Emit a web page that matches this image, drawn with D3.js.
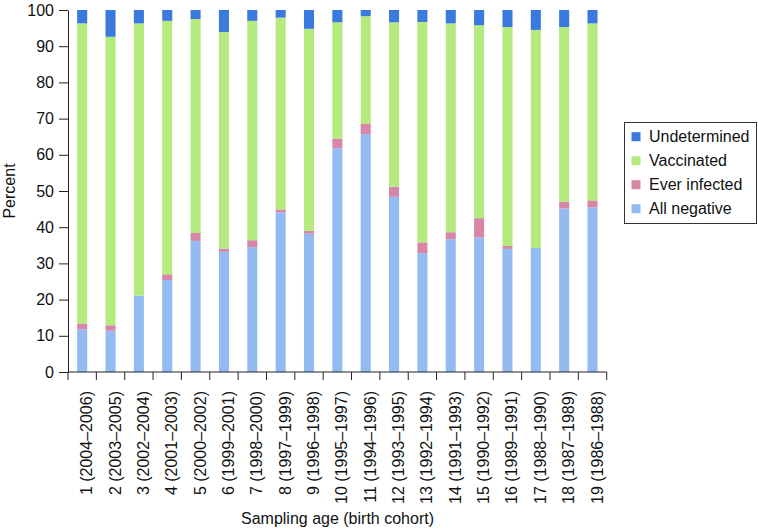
<!DOCTYPE html>
<html>
<head>
<meta charset="utf-8">
<script src="https://cdn.jsdelivr.net/npm/d3@7"></script>
<style>
  html, body { margin: 0; padding: 0; background: #fff; }
  svg { display: block; font-family: "Liberation Sans", Arial, Helvetica, sans-serif; }
</style>
</head>
<body>
<svg id="chart" width="758" height="531"></svg>
<script>
const categories = ["1 (2004\u20132006)","2 (2003\u20132005)","3 (2002\u20132004)","4 (2001\u20132003)","5 (2000\u20132002)","6 (1999\u20132001)","7 (1998\u20132000)","8 (1997\u20131999)","9 (1996\u20131998)","10 (1995\u20131997)","11 (1994\u20131996)","12 (1993\u20131995)","13 (1992\u20131994)","14 (1991\u20131993)","15 (1990\u20131992)","16 (1989\u20131991)","17 (1988\u20131990)","18 (1987\u20131989)","19 (1986\u20131988)"];
const allNegative  = [11.8, 11.4, 21.1, 25.4, 36.2, 33.2, 34.5, 44.1, 38.2, 61.8, 65.7, 48.4, 32.8, 36.7, 37.2, 34.0, 34.3, 45.2, 45.5];
const everInfected = [1.5, 1.5, 0.0, 1.6, 2.2, 0.9, 1.9, 0.8, 0.8, 2.7, 2.8, 2.8, 3.0, 1.9, 5.3, 0.8, 0.0, 1.8, 1.9];
const vaccinated   = [83.0, 79.7, 75.2, 70.0, 59.1, 59.8, 60.6, 53.0, 55.8, 32.1, 29.8, 45.4, 60.9, 57.7, 53.3, 60.5, 60.2, 48.3, 48.9];
const undetermined = [3.7, 7.4, 3.7, 3.0, 2.5, 6.1, 3.0, 2.1, 5.2, 3.4, 1.7, 3.4, 3.3, 3.7, 4.2, 4.7, 5.5, 4.7, 3.7];
const seriesNames  = ["All negative", "Ever infected", "Vaccinated", "Undetermined"];
const yTicks = [0, 10, 20, 30, 40, 50, 60, 70, 80, 90, 100];

const colors = {
  "All negative": "#93bbf1",
  "Ever infected": "#d786a7",
  "Vaccinated": "#b5ea7f",
  "Undetermined": "#3a79de"
};

const table = categories.map((c, i) => ({
  cat: c,
  "All negative": allNegative[i],
  "Ever infected": everInfected[i],
  "Vaccinated": vaccinated[i],
  "Undetermined": undetermined[i]
}));

const svg = d3.select("#chart");
const mLeft = 68, mRight = 606.7, mTop = 10, mBottom = 372;

const x = d3.scaleBand().domain(categories).range([mLeft, mRight])
  .paddingInner(0.645).paddingOuter(0.3225);
const y = d3.scaleLinear().domain([0, 100]).range([mBottom, mTop]);

const stacked = d3.stack().keys(seriesNames)(table);

svg.append("g").selectAll("g")
  .data(stacked)
  .join("g")
  .attr("fill", d => colors[d.key])
  .selectAll("rect")
  .data(d => d)
  .join("rect")
  .attr("x", d => x(d.data.cat))
  .attr("width", x.bandwidth())
  .attr("y", d => y(Math.min(d[1], 100)))
  .attr("height", d => Math.max(0, y(d[0]) - y(Math.min(d[1], 100))));

// Y axis
const yAxis = d3.axisLeft(y).tickValues(yTicks).tickSize(9).tickPadding(5).tickSizeOuter(0);
const gy = svg.append("g").attr("transform", `translate(${mLeft},0)`).call(yAxis);
gy.select(".domain").attr("stroke", "#222");
gy.selectAll(".tick line").attr("stroke", "#222");
gy.selectAll(".tick text").attr("font-size", 16).attr("fill", "#111")
  .attr("font-family", "'Liberation Sans', Arial, sans-serif");

// X axis line and boundary ticks
const step = x.step();
const gx = svg.append("g");
gx.append("line").attr("x1", mLeft).attr("x2", mRight).attr("y1", mBottom).attr("y2", mBottom)
  .attr("stroke", "#222");
const boundaries = categories.map(c => x(c) - step * x.paddingInner() / 2);
boundaries.push(x(categories[categories.length - 1]) + x.bandwidth() + step * x.paddingInner() / 2);
gx.selectAll("line.bt").data(boundaries).join("line").attr("class", "bt")
  .attr("x1", d => d).attr("x2", d => d).attr("y1", mBottom).attr("y2", mBottom + 8)
  .attr("stroke", "#222");

// X labels
gx.selectAll("text.xl").data(categories).join("text").attr("class", "xl")
  .attr("transform", d => `translate(${x(d) + x.bandwidth() / 2 + 10},${mBottom + 19}) rotate(-90)`)
  .attr("text-anchor", "end")
  .attr("font-size", 16)
  .attr("fill", "#111")
  .text(d => d);

// Axis titles
svg.append("text").attr("x", 337.5).attr("y", 524).attr("text-anchor", "middle")
  .attr("font-size", 16).attr("fill", "#111").text("Sampling age (birth cohort)");
svg.append("text").attr("transform", `translate(15,${(mTop + mBottom) / 2}) rotate(-90)`)
  .attr("text-anchor", "middle").attr("font-size", 16).attr("fill", "#111").text("Percent");

// Legend
const legendOrder = ["Undetermined", "Vaccinated", "Ever infected", "All negative"];
const lg = svg.append("g");
lg.append("rect").attr("x", 624.5).attr("y", 122.5).attr("width", 132).attr("height", 101)
  .attr("fill", "#fff").attr("stroke", "#333").attr("stroke-width", 1);
const items = lg.selectAll("g.it").data(legendOrder).join("g").attr("class", "it")
  .attr("transform", (d, i) => `translate(0,${136.7 + i * 24})`);
items.append("rect").attr("x", 631.5).attr("y", -4.5).attr("width", 9).attr("height", 9)
  .attr("fill", d => colors[d]);
items.append("text").attr("x", 649).attr("y", 0).attr("dy", "0.35em")
  .attr("font-size", 16).attr("fill", "#111").text(d => d);
</script>
</body>
</html>
